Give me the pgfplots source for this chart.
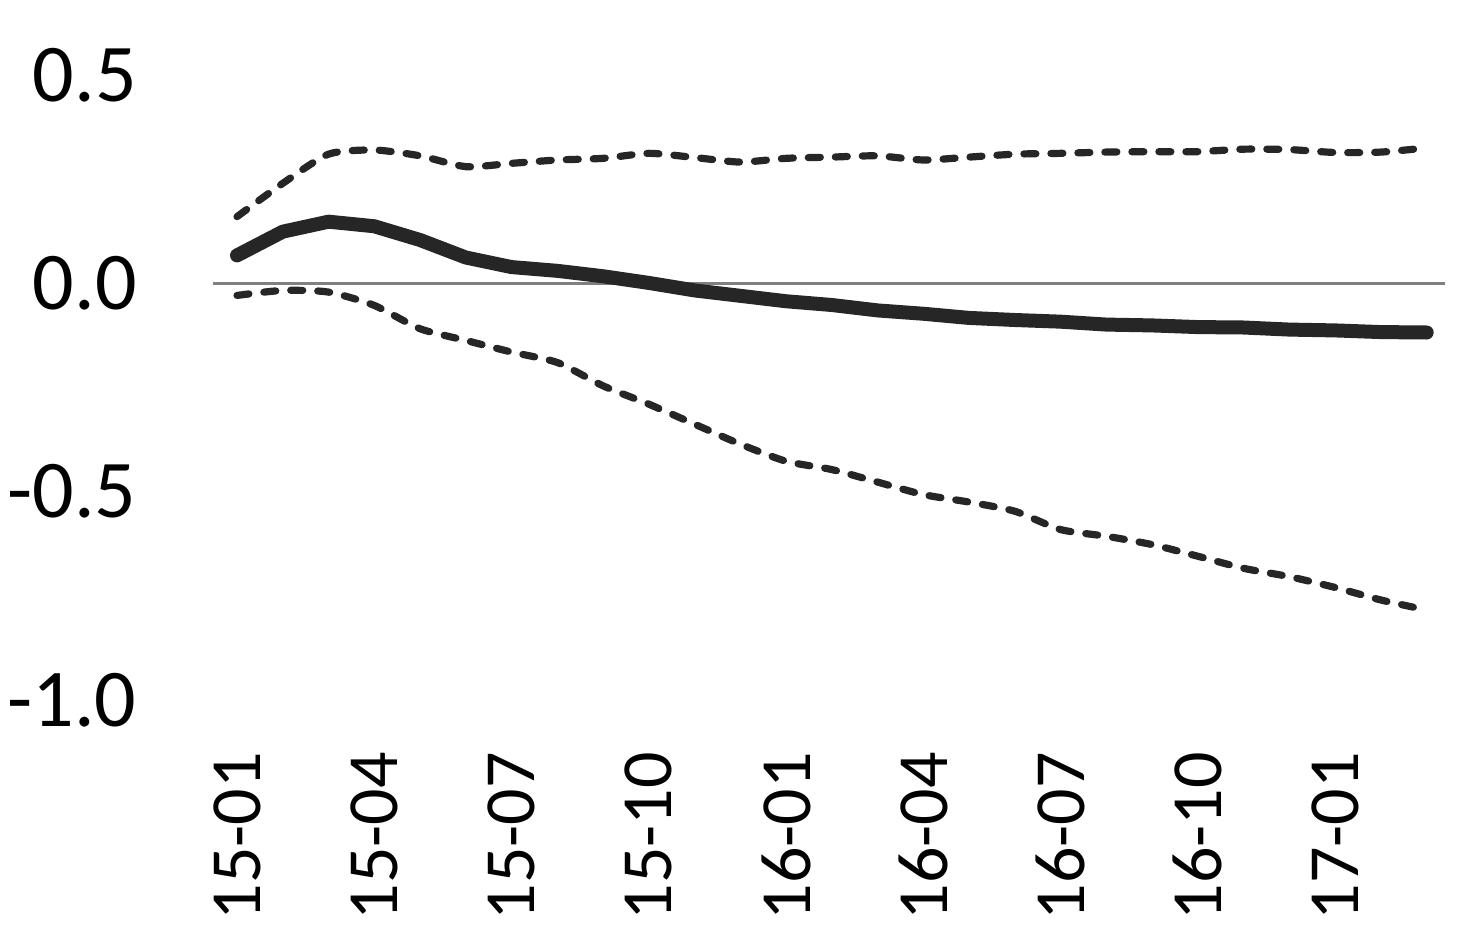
\documentclass[border=0pt]{standalone}
\usepackage{pgfplots}
\pgfplotsset{compat=1.18}
\usepackage{fontspec}
\setmainfont{Carlito}
\definecolor{ln}{HTML}{262626}
\definecolor{zl}{HTML}{808080}
\pgfplotstableread{
i mid up lo
0 0.067 0.160 -0.029
1 0.124 0.240 -0.017
2 0.148 0.310 -0.021
3 0.137 0.320 -0.053
4 0.104 0.306 -0.109
5 0.062 0.280 -0.137
6 0.039 0.288 -0.165
7 0.030 0.296 -0.190
8 0.017 0.300 -0.246
9 0.001 0.312 -0.290
10 -0.017 0.302 -0.338
11 -0.030 0.291 -0.386
12 -0.043 0.300 -0.427
13 -0.052 0.303 -0.447
14 -0.065 0.306 -0.477
15 -0.073 0.296 -0.507
16 -0.083 0.303 -0.525
17 -0.088 0.310 -0.547
18 -0.092 0.312 -0.591
19 -0.099 0.315 -0.607
20 -0.101 0.316 -0.627
21 -0.105 0.316 -0.655
22 -0.106 0.322 -0.684
23 -0.111 0.321 -0.704
24 -0.113 0.314 -0.730
25 -0.117 0.315 -0.760
26 -0.118 0.325 -0.784
}\data
\begin{document}
\begin{tikzpicture}
\begin{axis}[
  name=ax,
  scale only axis,
  width=616pt, height=312.5pt,
  xmin=-0.525, xmax=26.4,
  ymin=-1.0, ymax=0.5,
  axis line style={draw=none},
  tick style={draw=none},
  major tick length=0pt,
  xtick={0,3,6,9,12,15,18,21,24},
  xticklabels={15-01,15-04,15-07,15-10,16-01,16-04,16-07,16-10,17-01},
  ytick={-1,-0.5,0,0.5},
  yticklabels={-1.0,-0.5,0.0,0.5},
  xticklabel style={rotate=90, anchor=east, inner sep=0pt, xshift=-26pt, font=\fontsize{36}{43}\selectfont},
  yticklabel style={anchor=east, inner sep=0pt, xshift=-38pt, font=\fontsize{41}{49}\selectfont},
  clip=false,
]
\addplot[zl, line width=1.2pt] coordinates {(-0.525,0) (26.4,0)};
\addplot[ln, line width=3.6pt, line cap=round, dash pattern=on 6pt off 7.5pt, smooth, tension=0.4] table[x=i, y=up] {\data};
\addplot[ln, line width=3.6pt, line cap=round, dash pattern=on 6pt off 7.5pt, smooth, tension=0.4] table[x=i, y=lo] {\data};
\addplot[ln, line width=7pt, line cap=round, line join=round] table[x=i, y=mid] {\data};
\end{axis}
\pgfresetboundingbox
\path ([shift={(-106.5pt,-124pt)}]ax.south west) rectangle ([shift={(18.5pt,37.5pt)}]ax.north east);
\end{tikzpicture}
\end{document}
